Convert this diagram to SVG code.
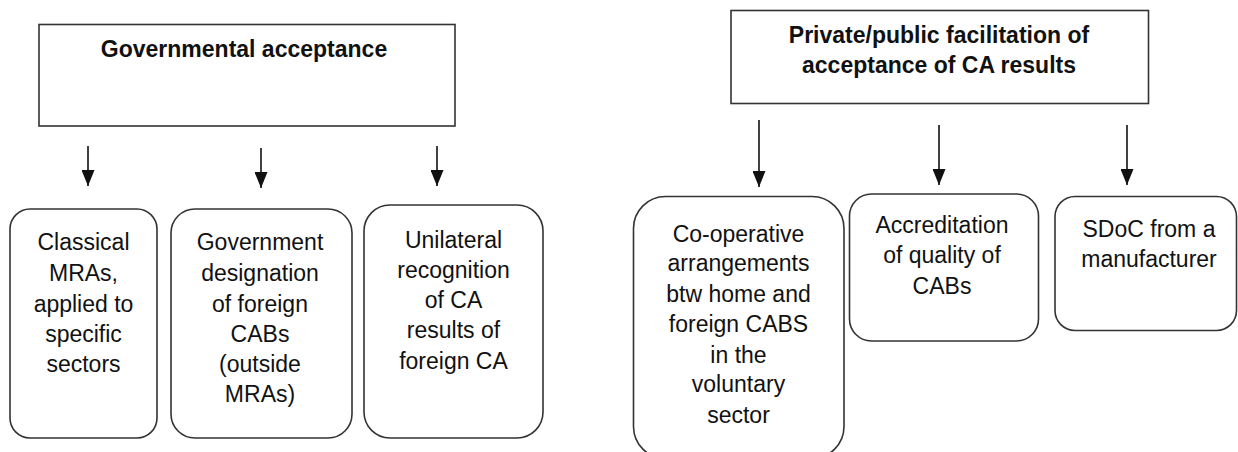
<svg xmlns="http://www.w3.org/2000/svg" width="1238" height="452" viewBox="0 0 1238 452">
<style>
.box{fill:#fff;stroke:#333;stroke-width:1.6}
.t{font-family:"Liberation Sans",Arial,sans-serif;font-size:23px;fill:#111;text-anchor:middle}
.h{font-family:"Liberation Sans",Arial,sans-serif;font-size:23px;font-weight:bold;fill:#111;text-anchor:middle}
.c{stroke:#111;stroke-width:1.6;fill:none}
</style>
<defs>
<marker id="ah" markerUnits="userSpaceOnUse" markerWidth="16" markerHeight="13" refX="16" refY="6.5" orient="auto" viewBox="0 0 16 13">
<path d="M0,0 L16,6.5 L0,13 z" fill="#111"/>
</marker>
</defs>
<rect width="1238" height="452" fill="#fff"/>
<g id="gov">
<rect class="box" x="39" y="24.5" width="416" height="101.5"/>
<text class="h" x="244" y="57">Governmental acceptance</text>
</g>
<g id="priv">
<rect class="box" x="731" y="10.5" width="417.5" height="93"/>
<text class="h" x="939" y="43">Private/public facilitation of</text>
<text class="h" x="939" y="72.5">acceptance of CA results</text>
</g>
<g id="connectors">
<line class="c" x1="88" y1="146" x2="88" y2="186" marker-end="url(#ah)"/>
<line class="c" x1="261" y1="148" x2="261" y2="188" marker-end="url(#ah)"/>
<line class="c" x1="437" y1="146" x2="437" y2="186" marker-end="url(#ah)"/>
<line class="c" x1="759" y1="120" x2="759" y2="187" marker-end="url(#ah)"/>
<line class="c" x1="939" y1="125" x2="939" y2="185" marker-end="url(#ah)"/>
<line class="c" x1="1127" y1="125" x2="1127" y2="185" marker-end="url(#ah)"/>
</g>
<g id="classical">
<rect class="box" x="10" y="209" width="147" height="229" rx="20"/>
<text class="t" x="83.5" y="250">Classical</text>
<text class="t" x="83.5" y="281">MRAs,</text>
<text class="t" x="83.5" y="312">applied to</text>
<text class="t" x="83.5" y="342">specific</text>
<text class="t" x="83.5" y="372">sectors</text>
</g>
<g id="designation">
<rect class="box" x="171" y="209" width="181" height="229" rx="24"/>
<text class="t" x="260" y="250">Government</text>
<text class="t" x="260" y="281">designation</text>
<text class="t" x="260" y="312">of foreign</text>
<text class="t" x="260" y="342">CABs</text>
<text class="t" x="260" y="372">(outside</text>
<text class="t" x="260" y="402">MRAs)</text>
</g>
<g id="unilateral">
<rect class="box" x="364" y="205" width="179" height="233" rx="26"/>
<text class="t" x="453.5" y="248">Unilateral</text>
<text class="t" x="453.5" y="278">recognition</text>
<text class="t" x="453.5" y="308">of CA</text>
<text class="t" x="453.5" y="338">results of</text>
<text class="t" x="453.5" y="369">foreign CA</text>
</g>
<g id="cooperative">
<rect class="box" x="633.5" y="196.5" width="210.5" height="262" rx="32"/>
<text class="t" x="738.5" y="242">Co-operative</text>
<text class="t" x="738.5" y="271">arrangements</text>
<text class="t" x="738.5" y="302">btw home and</text>
<text class="t" x="738.5" y="332">foreign CABS</text>
<text class="t" x="738.5" y="363">in the</text>
<text class="t" x="738.5" y="392">voluntary</text>
<text class="t" x="738.5" y="423">sector</text>
</g>
<g id="accreditation">
<rect class="box" x="849.5" y="194" width="189" height="147" rx="22"/>
<text class="t" x="942" y="233">Accreditation</text>
<text class="t" x="942" y="263">of quality of</text>
<text class="t" x="942" y="294">CABs</text>
</g>
<g id="sdoc">
<rect class="box" x="1055" y="196.5" width="181.5" height="134" rx="20"/>
<text class="t" x="1149" y="237">SDoC from a</text>
<text class="t" x="1149" y="267">manufacturer</text>
</g>
</svg>
